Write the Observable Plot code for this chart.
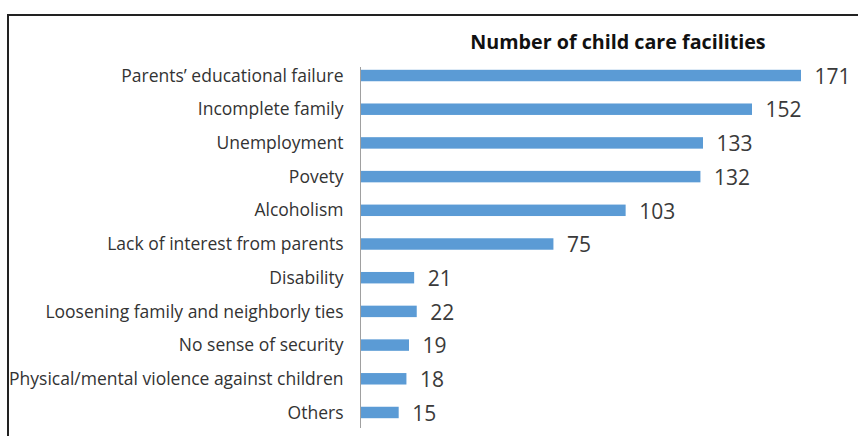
<!DOCTYPE html>
<html>
<head>
<meta charset="utf-8">
<script src="https://cdn.jsdelivr.net/npm/d3@7"></script>
<script src="https://cdn.jsdelivr.net/npm/@observablehq/plot@0.6"></script>
<style>
  html, body { margin: 0; padding: 0; background: #fff; }
  #wrap { position: relative; width: 858px; height: 436px; overflow: hidden; }
  #frame { position: absolute; left: 7px; top: 14px; width: 900px; height: 500px;
           border-top: 2px solid #222; border-left: 2px solid #222; }
  #title { position: absolute; left: 418px; width: 400px; top: 30px; text-align: center;
           font-family: "Open Sans", sans-serif; font-weight: bold; font-size: 19.7px; color: #111; line-height: 24px; }
  #chart { position: absolute; left: 0; top: 0; }
</style>
</head>
<body>
<div id="wrap">
  <div id="frame"></div>
  <div id="chart"></div>
  <div id="title">Number of child care facilities</div>
</div>
<script>
const categories = [
  "Parents’ educational failure",
  "Incomplete family",
  "Unemployment",
  "Povety",
  "Alcoholism",
  "Lack of interest from parents",
  "Disability",
  "Loosening family and neighborly ties",
  "No sense of security",
  "Physical/mental violence against children",
  "Others"
];
const values = [171, 152, 133, 132, 103, 75, 21, 22, 19, 18, 15];

const data = categories.map((c, i) => ({category: c, value: values[i]}));

const chart = Plot.plot({
  width: 858,
  height: 436,
  marginLeft: 360,
  marginRight: 57,
  marginTop: 58,
  marginBottom: 6,
  style: {fontFamily: "'Open Sans', sans-serif", background: "transparent"},
  x: {domain: [0, 171], axis: null},
  y: {domain: categories, paddingInner: 0.66, paddingOuter: 0.35, round: false, label: null},
  marks: [
    Plot.barX(data, {x: "value", y: "category", fill: "#5B9BD5"}),
    Plot.ruleX([0], {stroke: "#a0a0a0", strokeWidth: 1, insetTop: 9, insetBottom: 2}),
    Plot.text(data, {x: "value", y: "category", text: d => String(d.value),
      textAnchor: "start", dx: 13, dy: 1, fontSize: 21, fill: "#3a3a3a"}),
    Plot.axisY({tickSize: 0, tickPadding: 17, fontSize: 17.5, color: "#333", label: null, tickFormat: d => d})
  ]
});
document.getElementById("chart").appendChild(chart);
</script>
</body>
</html>
